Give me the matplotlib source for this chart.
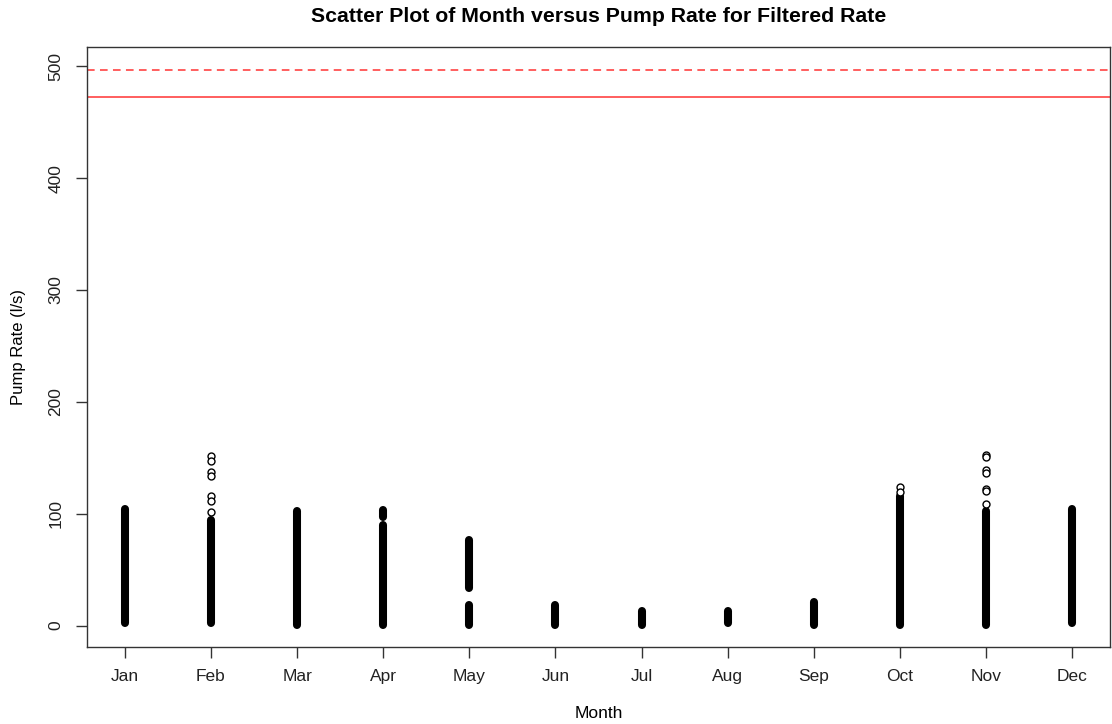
#!/usr/bin/env python3
# 月份与过滤后抽水流量的散点图

import matplotlib
matplotlib.use("Agg")
import matplotlib.pyplot as plt

months = ["Jan", "Feb", "Mar", "Apr", "May", "Jun",
          "Jul", "Aug", "Sep", "Oct", "Nov", "Dec"]

# 每个月里点挤成一条的区段 (月份序号, 最低值, 最高值)
run_month = [1, 2, 3, 4, 4, 5, 5, 6, 7, 8, 9, 10, 11, 12]
run_low = [2.5, 2.5, 0.8, 0.8, 97.5, 0.8, 33.8, 1.0, 1.0, 2.4, 0.8, 0.5, 0.5, 2.5]
run_high = [104.6, 94.0, 102.1, 90.0, 103.7, 18.9, 77.0, 18.9, 12.8, 13.1, 21.2, 116.0, 102.7, 104.6]

# 单独能看清的点
point_month = [2, 2, 2, 2, 2, 2, 2,
               10, 10,
               11, 11, 11, 11, 11, 11, 11]
point_rate = [151.5, 147.0, 137.5, 134.2, 115.6, 111.2, 101.2,
              123.5, 119.5,
              152.6, 150.6, 138.8, 136.1, 122.0, 120.2, 108.8]

# 参考线
limit_dashed = 496.6
limit_solid = 472.7

plt.rcParams["font.family"] = ["Liberation Sans", "DejaVu Sans"]

fig = plt.figure(figsize=(11.12, 7.24), dpi=100)
ax = fig.add_axes([0.0782, 0.1068, 0.9200, 0.8282])

# 密集区段画成粗线, 圆头正好等于圆点半径
ax.vlines(run_month, run_low, run_high, colors="black", linewidth=5.8,
          capstyle="round")
ax.plot(point_month, point_rate, linestyle="none", marker="o",
        markersize=5.0, markerfacecolor="white", markeredgecolor="black",
        markeredgewidth=1.0)

ax.axhline(limit_dashed, color="#ff3333", linestyle=(0, (5, 3.5)), linewidth=1.1)
ax.axhline(limit_solid, color="#ff3333", linewidth=1.1)

ax.set_xlim(0.56, 12.44)
ax.set_ylim(-18.8, 517.2)
ax.set_xticks(range(1, 13))
ax.set_xticklabels(months)
ax.set_yticks([0, 100, 200, 300, 400, 500])
ax.set_yticklabels(["0", "100", "200", "300", "400", "500"], rotation=90,
                   va="center")

ax.tick_params(axis="both", length=8, width=1.0, color="#333333",
               labelsize=12.5, labelcolor="#222222")
ax.tick_params(axis="x", pad=8)
ax.tick_params(axis="y", pad=9)
for s in ax.spines.values():
    s.set_color("#333333")
    s.set_linewidth(1.0)

ax.set_title("Scatter Plot of Month versus Pump Rate for Filtered Rate",
             fontsize=15.3, fontweight="bold", pad=18)
ax.set_xlabel("Month", fontsize=12.5, labelpad=16)
ax.set_ylabel("Pump Rate (l/s)", fontsize=12, labelpad=16)

fig.savefig("out.png", dpi=100)
